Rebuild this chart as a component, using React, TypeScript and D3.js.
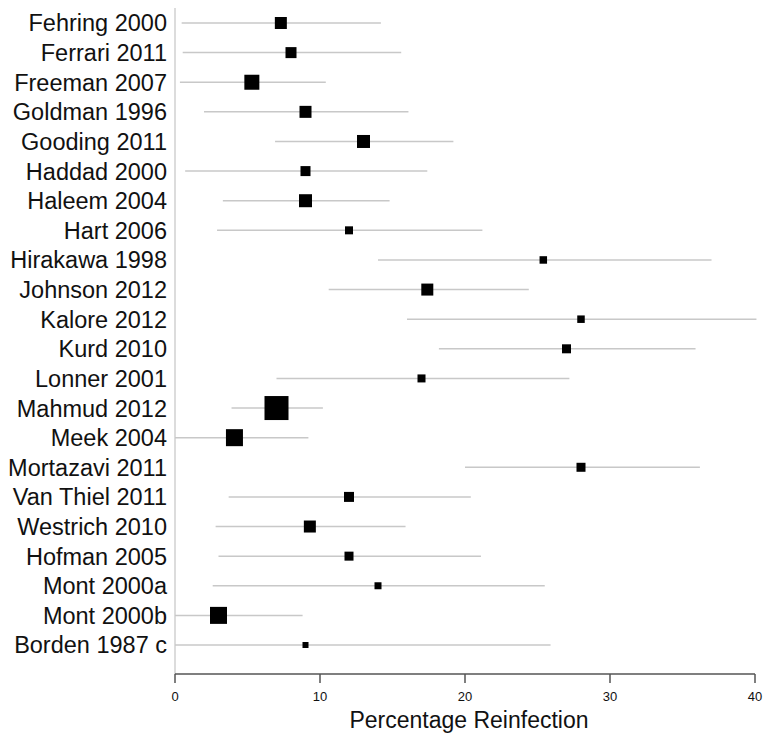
import React from "react";
import * as d3 from "d3";

const studies = [
  "Fehring 2000", "Ferrari 2011", "Freeman 2007", "Goldman 1996", "Gooding 2011",
  "Haddad 2000", "Haleem 2004", "Hart 2006", "Hirakawa 1998", "Johnson 2012",
  "Kalore 2012", "Kurd 2010", "Lonner 2001", "Mahmud 2012", "Meek 2004",
  "Mortazavi 2011", "Van Thiel 2011", "Westrich 2010", "Hofman 2005", "Mont 2000a",
  "Mont 2000b", "Borden 1987 c",
];
const estimates = [7.3, 8.0, 5.3, 9.0, 13.0, 9.0, 9.0, 12.0, 25.4, 17.4, 28.0, 27.0, 17.0, 7.0, 4.1, 28.0, 12.0, 9.3, 12.0, 14.0, 3.0, 9.0];
const lower = [0.46, 0.53, 0.34, 2.0, 6.9, 0.7, 3.3, 2.9, 14.0, 10.6, 16.0, 18.2, 7.0, 3.9, 0, 20.0, 3.7, 2.8, 3.0, 2.6, 0, 0];
const upper = [14.2, 15.6, 10.4, 16.1, 19.2, 17.4, 14.8, 21.2, 37.0, 24.4, 40.1, 35.9, 27.2, 10.2, 9.2, 36.2, 20.4, 15.9, 21.1, 25.5, 8.8, 25.9];
const weights = [12, 11, 15, 12, 13, 10, 13, 8, 7.5, 12, 7.5, 9, 8, 24, 17, 9, 10, 12, 9, 7, 17, 6];
const xTicks = [0, 10, 20, 30, 40];
const xTitle = "Percentage Reinfection";

export default function App() {
  const W = 763, H = 733;
  const x = d3.scaleLinear().domain([0, 40]).range([175, 755]);
  const y = d3.scalePoint<string>().domain(studies).range([23, 645]);
  const size = d3.scaleLinear().domain([0, 24]).range([0, 24]);
  const axisY = 674;
  const font = "Arial, 'Liberation Sans', Helvetica, sans-serif";
  return (
    <svg width={W} height={H} style={{ position: "absolute", left: 0, top: 0, background: "#fff" }} fontFamily={font}>
      <line x1={x(0)} x2={x(0)} y1={8} y2={axisY} stroke="#d0d0d0" strokeWidth={1.5} />
      {studies.map((s, i) => {
        const cy = y(s)!;
        const sz = size(weights[i]);
        return (
          <g key={s}>
            <text x={167} y={cy} dy="0.36em" textAnchor="end" fontSize={23.5} fill="#111">{s}</text>
            <line x1={x(lower[i])} x2={x(upper[i])} y1={cy} y2={cy} stroke="#c8c8c8" strokeWidth={1.5} />
            <rect x={x(estimates[i]) - sz / 2} y={cy - sz / 2} width={sz} height={sz} fill="#000" />
          </g>
        );
      })}
      <line x1={x(0)} x2={x(40)} y1={axisY} y2={axisY} stroke="#555" strokeWidth={1.5} />
      {xTicks.map((t) => (
        <g key={t}>
          <line x1={x(t)} x2={x(t)} y1={axisY} y2={axisY + 9} stroke="#555" strokeWidth={1.5} />
          <text x={x(t)} y={axisY + 27} textAnchor="middle" fontSize={13} fill="#111">{t}</text>
        </g>
      ))}
      <text x={(x(0) + x(40)) / 2 + 4} y={728} textAnchor="middle" fontSize={23} fill="#111">{xTitle}</text>
    </svg>
  );
}
